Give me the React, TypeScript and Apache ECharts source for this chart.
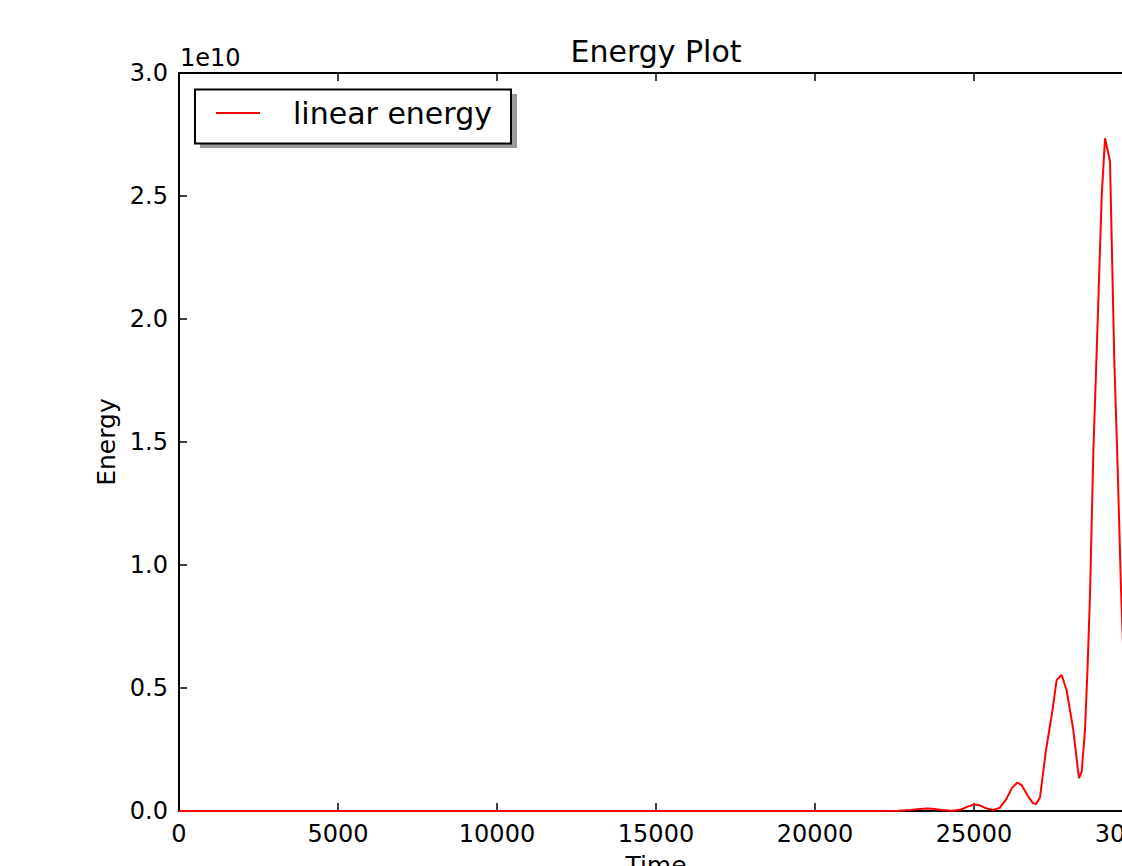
import React, { useEffect, useRef } from "react";
import * as echarts from "echarts";

const TITLE = "Energy Plot";
const SERIES_NAME = "linear energy";
const X_NAME = "Time";
const Y_NAME = "Energy";
const SCALE_TEXT = "1e10";

// Time samples
const times: number[] = [
  0, 5000, 10000, 15000, 20000, 22000, 22600, 23000, 23300, 23500, 23700, 24000,
  24300, 24600, 24800, 25000, 25200, 25400, 25600, 25800, 26000, 26200, 26360,
  26500, 26700, 26850, 26950, 27075, 27265, 27450, 27600, 27758, 27914, 28122,
  28229, 28302, 28387, 28491, 28576, 28648, 28755, 28859, 29016, 29120, 29277,
  29412, 29519, 29623, 29750, 29850, 30000,
];

// Energy values
const energy: number[] = [
  0, 0, 0, 0, 0, 0.0e10, 0.001e10, 0.004e10, 0.008e10, 0.01e10, 0.009e10, 0.004e10,
  0.001e10, 0.006e10, 0.018e10, 0.027e10, 0.022e10, 0.01e10, 0.004e10, 0.012e10,
  0.045e10, 0.095e10, 0.115e10, 0.105e10, 0.06e10, 0.032e10, 0.028e10, 0.055e10,
  0.248e10, 0.394e10, 0.533e10, 0.553e10, 0.49e10, 0.33e10, 0.21e10, 0.134e10,
  0.16e10, 0.33e10, 0.6e10, 0.88e10, 1.47e10, 1.87e10, 2.5e10, 2.735e10, 2.64e10,
  1.83e10, 1.39e10, 0.9e10, 0.45e10, 0.15e10, 0.05e10,
];

const X_MIN = 0;
const X_MAX = 30000;
const X_STEP = 5000;
const Y_MIN = 0;
const Y_MAX = 3e10;
const Y_STEP = 0.5e10;

const FONT = "DejaVu Sans";

export default function App() {
  const ref = useRef<HTMLDivElement>(null);

  useEffect(() => {
    if (!ref.current) return;
    const chart = echarts.init(ref.current, undefined, { renderer: "svg" });
    const data = times.map((t, i) => [t, energy[i]]);

    const axisLine = { show: true, onZero: false, lineStyle: { color: "#000", width: 2 } };
    const axisTick = { show: true, inside: true, length: 8, lineStyle: { color: "#000", width: 1.5 } };

    chart.setOption({
      animation: false,
      backgroundColor: "#fff",
      title: {
        text: TITLE,
        left: "center",
        top: 31,
        textStyle: { fontFamily: FONT, fontSize: 30, fontWeight: "normal", color: "#000" },
      },
      legend: {
        show: true,
        left: 216,
        top: 98,
        padding: 0,
        z: 10,
        icon: "rect",
        itemWidth: 44,
        itemHeight: 2,
        data: [{ name: SERIES_NAME, icon: "rect" }],
        textStyle: { fontFamily: FONT, fontSize: 30, color: "#000", padding: [0, 0, 0, 28] },
      },
      graphic: [
        { type: "rect", z: 5, shape: { x: 200, y: 94, width: 317, height: 54 }, style: { fill: "#9a9a9a" } },
        { type: "rect", z: 6, shape: { x: 195, y: 89.5, width: 316, height: 54 }, style: { fill: "#fff", stroke: "#000", lineWidth: 2 } },
        {
          type: "text",
          z: 6,
          x: 180,
          y: 57.5,
          style: { text: SCALE_TEXT, fontFamily: FONT, fontSize: 24, fill: "#000", verticalAlign: "middle", align: "left" },
        },
      ],
      grid: { left: 179, right: 179, top: 73, bottom: 89, containLabel: false },
      xAxis: [
        {
          type: "value",
          position: "bottom",
          min: X_MIN,
          max: X_MAX,
          interval: X_STEP,
          name: X_NAME,
          nameLocation: "middle",
          nameGap: 42,
          nameTextStyle: { fontFamily: FONT, fontSize: 25, color: "#000" },
          axisLine,
          axisTick,
          splitLine: { show: false },
          axisLabel: {
            fontFamily: FONT,
            fontSize: 24,
            color: "#000",
            margin: 11,
            formatter: (v: number) => String(v),
          },
        },
        {
          type: "value",
          position: "top",
          min: X_MIN,
          max: X_MAX,
          interval: X_STEP,
          axisLine,
          axisTick,
          splitLine: { show: false },
          axisLabel: { show: false },
        },
      ],
      yAxis: [
        {
          type: "value",
          position: "left",
          min: Y_MIN,
          max: Y_MAX,
          interval: Y_STEP,
          name: Y_NAME,
          nameLocation: "middle",
          nameGap: 57,
          nameTextStyle: { fontFamily: FONT, fontSize: 25, color: "#000" },
          axisLine,
          axisTick,
          splitLine: { show: false },
          axisLabel: {
            fontFamily: FONT,
            fontSize: 24,
            color: "#000",
            margin: 11,
            formatter: (v: number) => (v / 1e10).toFixed(1),
          },
        },
        {
          type: "value",
          position: "right",
          min: Y_MIN,
          max: Y_MAX,
          interval: Y_STEP,
          axisLine,
          axisTick,
          splitLine: { show: false },
          axisLabel: { show: false },
        },
      ],
      series: [
        {
          name: SERIES_NAME,
          type: "line",
          xAxisIndex: 0,
          yAxisIndex: 0,
          data,
          symbol: "none",
          smooth: false,
          z: 3,
          lineStyle: { color: "#ff0000", width: 2 },
          itemStyle: { color: "#ff0000" },
        },
      ],
    });

    return () => chart.dispose();
  }, []);

  return (
    <div style={{ position: "fixed", left: 0, top: 0, width: 1122, height: 866, overflow: "hidden", background: "#fff" }}>
      <div ref={ref} style={{ width: 1312, height: 900 }} />
    </div>
  );
}
